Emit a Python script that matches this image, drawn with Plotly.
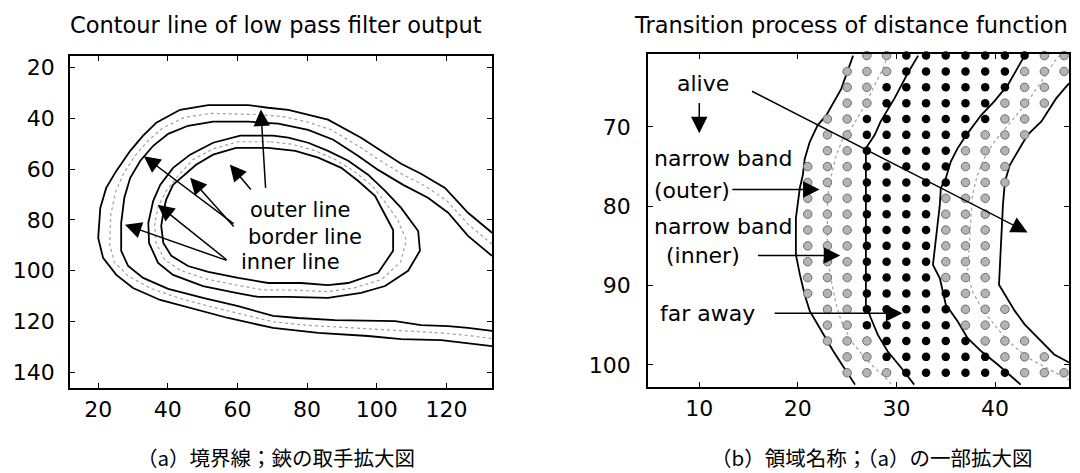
import plotly.graph_objects as go

# ---------------- left panel: contour lines (data coords) -------------
outerA_x = [133.1,126.2,119.6,112.7,107.0,101.3,95.5,86.0,80.3,74.6,68.8,63.1,51.6,43.5,36.7,32.9,29.2,25.2,22.3,20.6,20.0,21.4,25.2,30.0,37.8,46.4,57.3,70.2,83.2,97.5,107.0,118.5,126.2,133.1]
outerA_y = [85.1,77.2,67.4,61.8,57.9,52.8,47.6,40.5,38.6,36.6,35.8,34.8,34.8,36.6,41.7,46.8,52.8,60.7,67.4,75.3,87.1,95.0,101.7,106.9,111.6,114.8,118.7,122.6,124.6,125.8,127.0,127.4,128.6,129.8]
outerB_x = [133.1,126.2,120.0,113.7,107.3,100.8,95.0,86.7,80.3,73.1,66.0,52.3,44.6,38.4,34.3,30.6,27.2,24.9,23.6,23.3,24.6,28.5,35.0,43.5,52.5,63.5,70.2,80.3,93.0,106.2,118.5,126.2,133.1]
outerB_y = [89.6,81.7,72.3,66.5,62.0,56.5,51.1,44.4,41.5,39.3,38.5,38.0,39.7,43.9,48.8,54.7,62.0,69.3,78.2,89.6,96.6,102.0,107.0,111.0,114.3,118.0,120.2,121.6,122.6,123.4,124.6,125.6,126.8]
outerC_x = [133.1,126.2,120.5,114.7,107.6,100.4,94.6,87.5,80.3,71.7,63.1,53.0,45.8,40.1,35.8,32.1,29.2,27.5,26.6,26.6,28.6,32.9,40.1,50.1,60.2,70.2,77.4,88.0,105.3,112.7,120.5,126.2,133.1]
outerC_y = [94.2,86.3,77.2,71.3,66.2,60.3,54.7,48.4,44.5,42.1,41.3,41.3,42.9,46.1,50.8,56.7,63.4,71.3,81.2,92.2,98.2,102.9,107.2,110.8,114.0,117.9,118.7,119.5,119.9,121.5,121.9,122.6,123.8]

innerD_x = [70.2,74.6,80.3,86.0,91.8,97.5,102.4,107.0,111.9,112.4,109.0,102.4,95.5,86.0,74.6,65.9,59.6,50.1,41.5,37.2,34.6,34.4,35.8,37.8,41.5,46.4,53.0,60.8,70.2]
innerD_y = [46.8,47.6,49.6,52.8,56.7,62.2,68.6,75.3,84.4,92.2,100.1,106.1,108.8,110.8,110.4,110.4,108.8,106.1,101.7,97.0,89.1,81.2,72.5,66.2,59.5,54.3,49.6,46.8,46.8]
innerE_x = [69.5,75.6,81.8,87.9,93.2,98.5,102.1,105.9,108.5,106.8,101.4,93.6,86.0,76.5,67.3,59.9,50.9,43.6,39.0,36.6,36.2,37.2,39.6,43.0,47.2,53.0,60.2,69.5]
innerE_y = [49.2,50.2,52.5,56.1,60.6,66.3,72.5,79.7,88.1,96.7,103.5,106.8,108.3,107.7,107.6,105.8,103.3,99.9,95.6,89.1,81.8,74.8,68.5,62.5,56.3,52.0,49.2,49.2]
innerF_x = [68.8,76.6,83.2,89.8,94.6,99.5,101.8,104.7,104.7,100.4,91.8,86.0,78.3,68.8,60.2,51.6,45.8,41.0,38.7,38.1,38.7,39.5,41.5,44.4,48.1,53.0,59.6,68.8]
innerF_y = [51.6,52.8,55.5,59.5,64.6,70.5,76.5,84.0,92.2,100.9,104.9,105.7,104.9,104.9,102.9,100.5,98.2,94.2,89.1,82.4,77.2,72.1,66.2,62.6,58.3,54.3,51.6,51.6]

left_xticks = [20, 40, 60, 80, 100, 120]
left_yticks = [20, 40, 60, 80, 100, 120, 140]

# label text, anchor and arrows (tail -> tip) of the left panel
left_labels = ["outer line", "border line", "inner line"]
left_label_x = [63.2, 62.8, 60.8]
left_label_y = [76.0, 86.9, 96.7]
left_arrow_tail_x = [68.1, 64.2, 59.3, 59.3, 57.3, 57.3]
left_arrow_tail_y = [68.0, 68.6, 81.9, 83.2, 96.2, 96.2]
left_arrow_tip_x = [66.7, 57.8, 33.1, 46.4, 37.1, 27.7]
left_arrow_tip_y = [36.5, 58.2, 54.9, 63.4, 74.0, 81.9]

# ---------------- right panel -------------
L1_x = [25.6,24.4,22.9,22.0,21.2,20.7,20.5,20.2,19.8,19.8,20.2,20.7,21.2,22.4,23.6,24.7,25.8]
L1_y = [61.0,65.2,68.5,69.8,71.9,74.0,76.1,77.7,81.5,86.1,88.6,91.2,93.2,95.8,98.3,100.4,102.5]
L2_x = [29.1,28.8,27.8,26.6,25.4,24.6,23.9,23.4,23.0,23.0,23.0,23.4,23.9,24.4,25.4,26.8,27.8,29.1,29.7]
L2_y = [60.9,62.2,64.7,67.7,70.2,71.4,73.5,76.1,79.0,84.4,86.1,89.5,92.4,94.5,97.0,99.1,100.4,101.9,102.8]
L3_x = [32.2,31.2,29.8,28.4,27.8,26.9,26.9,27.4,28.1,29.1,30.5,31.8]
L3_y = [61.0,63.1,66.4,69.3,71.0,72.7,92.4,94.1,96.2,98.3,100.4,102.5]
L4_x = [43.0,41.3,39.9,38.6,37.1,36.2,35.5,35.0,34.5,34.4,33.7,34.4,35.0,36.2,37.2,38.6,40.3,42.6]
L4_y = [61.0,64.7,66.8,68.5,71.0,72.7,74.4,76.5,77.7,79.8,87.4,89.1,92.4,94.5,96.6,98.3,100.0,102.5]
L5_x = [46.6,46.0,44.7,43.0,41.3,39.9,38.9,38.2,37.7,37.2,37.7,38.6,39.9,41.3,43.3,45.3,47.5]
L5_y = [60.9,61.8,64.3,67.3,69.8,71.9,74.0,76.1,78.6,88.6,90.7,92.8,94.9,97.0,99.1,100.4,101.9]
L6_x = [47.5,46.2,44.7,43.3,42.3,41.5,41.0,40.8,40.4,41.0,42.0,43.0,44.3,46.0,47.5]
L6_y = [64.5,66.4,69.3,71.0,73.1,74.8,76.9,79.8,89.9,91.2,93.2,94.9,96.6,98.7,99.7]

# grid points: g = narrow band (gray), b = black, . = none
dot_cols = [21, 23, 25, 27, 29, 31, 33, 35, 37, 39, 41, 43, 45, 47]
dot_rows = [61, 63, 65, 67, 69, 71, 73, 75, 77, 79, 81, 83, 85, 87, 89, 91, 93, 95, 97, 99, 101]
dot_pattern = [
    "...ggbbbbbbbgg",
    "..gggbbbbbbggg",
    "..ggbbbbbbbgg.",
    "..ggbbbbbbggg.",
    ".ggbbbbbbbgg..",
    ".ggbbbbbbggg..",
    ".ggbbbbbggg...",
    "gggbbbbbggg...",
    "gggbbbbbggg...",
    "gggbbbbggg....",
    "gggbbbbggg....",
    "gggbbbbggg....",
    "gggbbbbggg....",
    "gggbbbbggg....",
    "gggbbbbggg....",
    "gggbbbbbgg....",
    ".ggbbbbbggg...",
    ".ggbbbbbggg...",
    ".gggbbbbbggg..",
    "..ggbbbbbbggg.",
    "..gggbbbbbbggg",
]

right_xticks = [10, 20, 30, 40]
right_yticks = [70, 80, 90, 100]

right_labels = ["alive", "narrow band", "(outer)", "narrow band", "(inner)", "far away"]
right_label_x = [10.4, 5.3, 9.3, 5.3, 10.4, 10.8]
right_label_y = [64.5, 74.0, 78.0, 82.5, 86.2, 93.5]
right_label_anchor = ["center", "left", "center", "left", "center", "center"]
right_arrow_tail_x = [10.0, 15.2, 13.2, 15.8, 17.5]
right_arrow_tail_y = [66.8, 65.4, 77.9, 86.2, 93.5]
right_arrow_tip_x = [10.0, 43.3, 22.2, 24.3, 30.6]
right_arrow_tip_y = [70.8, 83.3, 77.9, 86.2, 93.5]

titles = ["Contour line of low pass filter output", "Transition process of distance function"]
captions = ["（a）境界線；鋏の取手拡大図", "（b）領域名称；（a）の一部拡大図"]

FONT = "DejaVu Sans"
fig = go.Figure()


def add_line(x, y, xa, ya, gray):
    fig.add_trace(go.Scatter(
        x=x, y=y, mode="lines", xaxis=xa, yaxis=ya, hoverinfo="skip", showlegend=False,
        line=dict(color="#a0a0a0" if gray else "black", width=1.2 if gray else 1.8,
                  dash="dot" if gray else "solid")))


for (lx, ly, g) in [(outerA_x, outerA_y, False), (outerB_x, outerB_y, True), (outerC_x, outerC_y, False),
                    (innerD_x, innerD_y, False), (innerE_x, innerE_y, True), (innerF_x, innerF_y, False)]:
    add_line(lx, ly, "x", "y", g)

for (lx, ly, g) in [(L1_x, L1_y, False), (L2_x, L2_y, True), (L3_x, L3_y, False),
                    (L4_x, L4_y, False), (L5_x, L5_y, True), (L6_x, L6_y, False)]:
    add_line(lx, ly, "x2", "y2", g)

gx, gy, bx, by = [], [], [], []
for r, row in zip(dot_rows, dot_pattern):
    for c, ch in zip(dot_cols, row):
        if ch == "g":
            gx.append(c); gy.append(r)
        elif ch == "b":
            bx.append(c); by.append(r)

fig.add_trace(go.Scatter(x=gx, y=gy, mode="markers", xaxis="x2", yaxis="y2", showlegend=False,
                         cliponaxis=False, hoverinfo="skip",
                         marker=dict(size=8.5, color="#b4b4b4", line=dict(color="#6e6e6e", width=1))))
fig.add_trace(go.Scatter(x=bx, y=by, mode="markers", xaxis="x2", yaxis="y2", showlegend=False,
                         cliponaxis=False, hoverinfo="skip",
                         marker=dict(size=8.5, color="black")))

axis_common = dict(showline=True, linecolor="black", linewidth=1.6, mirror="allticks",
                   ticks="inside", ticklen=5, tickwidth=1.3, tickcolor="black",
                   showgrid=False, zeroline=False,
                   tickfont=dict(family=FONT, size=22, color="black"))

fig.update_layout(
    width=1080, height=473, margin=dict(l=0, r=0, t=0, b=0),
    paper_bgcolor="white", plot_bgcolor="white",
    xaxis=dict(domain=[62/1080, 484/1080], range=[11.9, 133.1], tickvals=left_xticks,
               anchor="y", ticklabelstandoff=1, **axis_common),
    yaxis=dict(domain=[1-380/473, 1-48/473], range=[146.3, 15.4], tickvals=left_yticks,
               anchor="x", ticklabelstandoff=9, **axis_common),
    xaxis2=dict(domain=[640/1080, 1061/1080], range=[4.8, 47.5], tickvals=right_xticks,
                anchor="y2", ticklabelstandoff=1, **axis_common),
    yaxis2=dict(domain=[1-379/473, 1-46/473], range=[102.8, 60.8], tickvals=right_yticks,
                anchor="x2", ticklabelstandoff=11, **axis_common),
)

text_font = dict(family=FONT, size=21, color="black")

for t, x, y in zip(left_labels, left_label_x, left_label_y):
    fig.add_annotation(x=x, y=y, xref="x", yref="y", text=t, showarrow=False,
                       xanchor="left", yanchor="middle", font=text_font, borderpad=0)
for tx, ty, hx, hy in zip(left_arrow_tail_x, left_arrow_tail_y, left_arrow_tip_x, left_arrow_tip_y):
    fig.add_annotation(x=hx, y=hy, ax=tx, ay=ty, xref="x", yref="y", axref="x", ayref="y",
                       text="", showarrow=True, arrowhead=2, arrowsize=2.2, arrowwidth=1.5,
                       arrowcolor="black", standoff=0, startstandoff=0)

for t, x, y, a in zip(right_labels, right_label_x, right_label_y, right_label_anchor):
    fig.add_annotation(x=x, y=y, xref="x2", yref="y2", text=t, showarrow=False,
                       xanchor=a, yanchor="middle", font=dict(family=FONT, size=22, color="black"),
                       borderpad=0)
for tx, ty, hx, hy in zip(right_arrow_tail_x, right_arrow_tail_y, right_arrow_tip_x, right_arrow_tip_y):
    fig.add_annotation(x=hx, y=hy, ax=tx, ay=ty, xref="x2", yref="y2", axref="x2", ayref="y2",
                       text="", showarrow=True, arrowhead=2, arrowsize=2.2, arrowwidth=1.5,
                       arrowcolor="black", standoff=0, startstandoff=0)

for t, cx in zip(titles, [268/1080, 843/1080]):
    fig.add_annotation(x=cx, y=1-17/473, xref="paper", yref="paper", text=t, showarrow=False,
                       xanchor="center", yanchor="middle",
                       font=dict(family=FONT, size=22.5, color="black"))

for t, cx in zip(captions, [268/1080, 863/1080]):
    fig.add_annotation(x=cx, y=1-449/473, xref="paper", yref="paper", text=t, showarrow=False,
                       xanchor="center", yanchor="middle", borderpad=0,
                       font=dict(family="Noto Sans CJK JP", size=20.5, color="black"))

fig.write_html("out.html")
